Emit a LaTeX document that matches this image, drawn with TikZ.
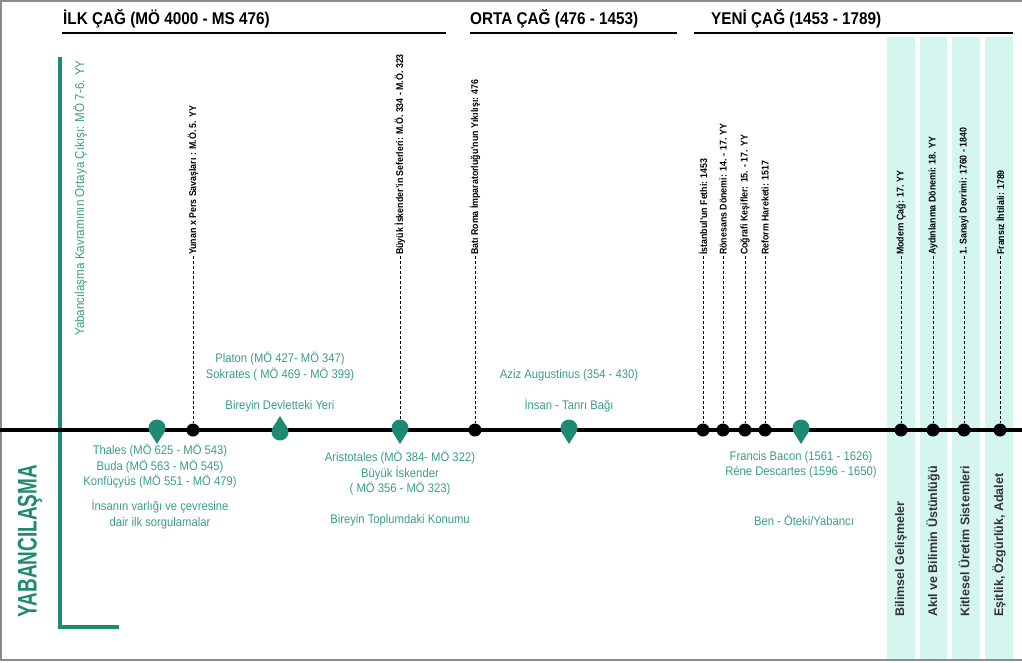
\documentclass[tikz,border=0pt]{standalone}
\usepackage{fontspec}
\usepackage{graphicx}
\setmainfont{Liberation Sans}[FakeStretch=0.9]
\newfontfamily\widesans{Liberation Sans}
\usetikzlibrary{positioning}
\definecolor{tealbar}{HTML}{1F8A72}
\definecolor{tealtxt}{HTML}{3C9C8A}
\definecolor{mint}{HTML}{D4F6EF}
\tikzset{
  era/.style={anchor=base west, inner sep=0pt, font=\fontsize{17}{20}\selectfont\bfseries},
  eraline/.style={line width=2.5pt},
  event/.style={rotate=90, anchor=west, inner sep=1pt, font=\fontsize{9.8}{11}\selectfont\bfseries},
  dot/.style={circle, fill=black, minimum size=13pt, inner sep=0pt},
  note/.style={text=tealtxt, align=center, inner sep=0pt, font=\fontsize{12.5}{15.5}\selectfont},
  column/.style={rotate=90, anchor=west, inner sep=0pt, text=black!80, font=\widesans\fontsize{12.5}{14}\selectfont\bfseries},
  pindown/.pic={\fill[tealbar] (0,-2) circle (8.5pt);
                \fill[tealbar] (-7.2,2.5) -- (0,14) -- (7.2,2.5) -- cycle;},
  pinup/.pic={\fill[tealbar] (0,2) circle (8.5pt);
              \fill[tealbar] (-7.2,-2.5) -- (0,-14) -- (7.2,-2.5) -- cycle;}
}
\begin{document}
\begin{tikzpicture}[x=1pt, y=-1pt]
\useasboundingbox (0,0) rectangle (1022,662);
\draw[black!45, line width=1.5pt] (1022,1) -- (1,1) -- (1,660) -- (1022,660);

% ages
\node[era] (ilk) at (63,24) {İLK ÇAĞ (MÖ 4000 - MS 476)};
\node[era] (orta) at (470,24) {ORTA ÇAĞ (476 - 1453)};
\node[era] (yeni) at (711,24) {YENİ ÇAĞ (1453 - 1789)};
\draw[eraline] (62,33) -- (446,33);
\draw[eraline] (470,33) -- (677,33);
\draw[eraline] (694,33) -- (1013,33);

% modern columns
\fill[mint] (887,37) rectangle (915,659);
\fill[mint] (920,37) rectangle (947,659);
\fill[mint] (952,37) rectangle (980,659);
\fill[mint] (985,37) rectangle (1013,659);

% left bracket
\draw[tealbar, line width=4pt] (60,57) -- (60,627) -- (119,627);
\node[rotate=90, inner sep=0pt, text=tealbar, font=\fontsize{27}{30}\selectfont\bfseries] (yab) at (30,541) {\scalebox{0.78}[1]{YABANCILAŞMA}};
\node[event, text=tealtxt, font=\fontsize{12.9}{14}\selectfont] (kavram) at (80,337) {Yabancılaşma Kavramının Ortaya Çıkışı: MÖ 7-6. YY};

% time line
\draw[line width=4pt] (0,430) -- (1022,430);

\node[dot] (yunan-d) at (193,430) {};
\node[dot] (roma-d) at (475,430) {};
\node[dot] (istanbul-d) at (703,430) {};
\node[dot] (ronesans-d) at (723,430) {};
\node[dot] (cografi-d) at (745,430) {};
\node[dot] (reform-d) at (765,430) {};
\node[dot] (modern-d) at (901,430) {};
\node[dot] (aydin-d) at (933,430) {};
\node[dot] (sanayi-d) at (964,430) {};
\node[dot] (ihtilal-d) at (1000,430) {};
\coordinate (iskender-d) at (400,419);

\pic at (157,430) {pindown};
\pic at (280,430) {pinup};
\pic at (400,430) {pindown};
\pic at (569,430) {pindown};
\pic at (801,430) {pindown};

% events
\node[event] (yunan) at (193,256) {Yunan x Pers Savaşları : M.Ö. 5. YY};
\node[event] (iskender) at (400,256) {Büyük İskender'in Seferleri: M.Ö. 334 - M.Ö. 323};
\node[event] (roma) at (475,256) {Batı Roma İmparatorluğu'nun Yıkılışı: 476};
\node[event] (istanbul) at (703,256) {İstanbul'un Fethi: 1453};
\node[event] (ronesans) at (723,256) {Rönesans Dönemi: 14. - 17. YY};
\node[event] (cografi) at (745,256) {Coğrafi Keşifler: 15. - 17. YY};
\node[event] (reform) at (765,256) {Reform Hareketi: 1517};
\node[event] (modern) at (901,256) {Modern Çağ: 17. YY};
\node[event] (aydin) at (933,256) {Aydınlanma Dönemi: 18. YY};
\node[event] (sanayi) at (964,256) {1. Sanayi Devrimi: 1760 - 1840};
\node[event] (ihtilal) at (1000,256) {Fransız İhtilali: 1789};

\path[densely dashed, line width=0.6pt]
  (yunan.west) edge (yunan-d)
  (iskender.west) edge (iskender-d)
  (roma.west) edge (roma-d)
  (istanbul.west) edge (istanbul-d)
  (ronesans.west) edge (ronesans-d)
  (cografi.west) edge (cografi-d)
  (reform.west) edge (reform-d)
  (modern.west) edge (modern-d)
  (aydin.west) edge (aydin-d)
  (sanayi.west) edge (sanayi-d)
  (ihtilal.west) edge (ihtilal-d);

% thinkers
\node[note, anchor=north] (thales) at (160,444) {Thales (MÖ 625 - MÖ 543)\\Buda (MÖ 563 - MÖ 545)\\Konfüçyüs (MÖ 551 - MÖ 479)};
\node[note, below=11pt of thales] (sorgu) {İnsanın varlığı ve çevresine\\dair ilk sorgulamalar};
\node[note, anchor=south] (platon) at (280,381) {Platon (MÖ 427- MÖ 347)\\Sokrates ( MÖ 469 - MÖ 399)};
\node[note, anchor=south] (devlet) at (280,412) {Bireyin Devletteki Yeri};
\node[note, anchor=north] (aristo) at (400,451) {Aristotales (MÖ 384- MÖ 322)\\Büyük İskender\\( MÖ 356 - MÖ 323)};
\node[note, below=19pt of aristo] (toplum) {Bireyin Toplumdaki Konumu};
\node[note, anchor=south] (augustinus) at (569,381) {Aziz Augustinus (354 - 430)};
\node[note, anchor=south] (tanri) at (569,412) {İnsan - Tanrı Bağı};
\node[note, anchor=north] (bacon) at (801,451) {Francis Bacon (1561 - 1626)\\Réne Descartes (1596 - 1650)};
\node[note, anchor=north] (oteki) at (804,515) {Ben - Öteki/Yabancı};

% themes of the modern age
\node[column] (bilimsel) at (901,617) {Bilimsel Gelişmeler};
\node[column] (akil) at (933,617) {Akıl ve Bilimin Üstünlüğü};
\node[column] (kitlesel) at (964,617) {Kitlesel Üretim Sistemleri};
\node[column] (esitlik) at (999,617) {Eşitlik, Özgürlük, Adalet};
\end{tikzpicture}
\end{document}
